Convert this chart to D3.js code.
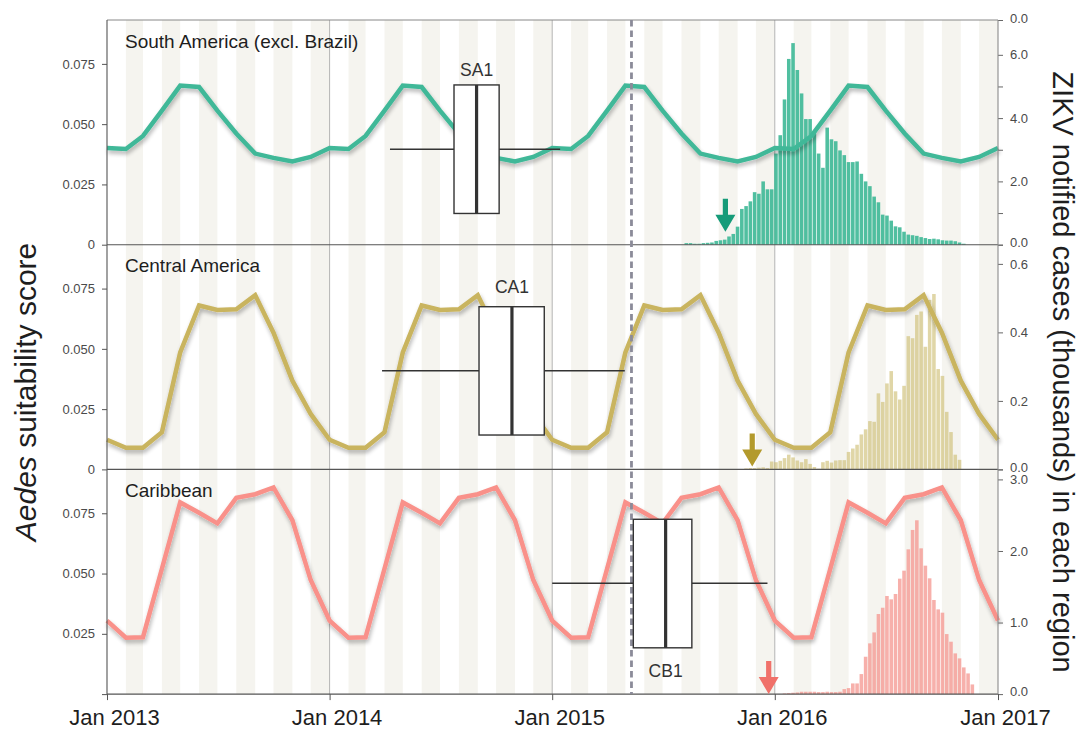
<!DOCTYPE html>
<html>
<head>
<meta charset="utf-8">
<script src="https://cdn.jsdelivr.net/npm/d3@7"></script>
<style>
  html, body { margin: 0; padding: 0; background: #fff; }
  svg { display: block; font-family: "Liberation Sans", Arial, Helvetica, sans-serif; }
</style>
</head>
<body>
<svg id="chart" width="1080" height="731"></svg>
<script>
// ---------------- data ----------------
const regionNames = ["South America (excl. Brazil)", "Central America", "Caribbean"];
const yearLabels = ["Jan 2013", "Jan 2014", "Jan 2015", "Jan 2016", "Jan 2017"];
const yearDates = ["2013-01-01", "2014-01-01", "2015-01-01", "2016-01-01", "2017-01-01"];

// Aedes suitability score on the first day of each month, Jan 2013 .. Jan 2017
const saSuitability = [
  0.0401, 0.0397, 0.0451, 0.0556, 0.0660, 0.0654, 0.0556, 0.0461, 0.0378, 0.0360, 0.0345, 0.0364,
  0.0401, 0.0397, 0.0451, 0.0556, 0.0660, 0.0654, 0.0556, 0.0461, 0.0378, 0.0360, 0.0345, 0.0364,
  0.0401, 0.0397, 0.0451, 0.0556, 0.0660, 0.0654, 0.0556, 0.0461, 0.0378, 0.0360, 0.0345, 0.0364,
  0.0401, 0.0397, 0.0451, 0.0556, 0.0660, 0.0654, 0.0556, 0.0461, 0.0378, 0.0360, 0.0345, 0.0364,
  0.0401
];
const caSuitability = [
  0.0123, 0.0090, 0.0090, 0.0154, 0.0485, 0.0680, 0.0661, 0.0664, 0.0723, 0.0567, 0.0368, 0.0230,
  0.0123, 0.0090, 0.0090, 0.0154, 0.0485, 0.0680, 0.0661, 0.0664, 0.0723, 0.0567, 0.0368, 0.0230,
  0.0123, 0.0090, 0.0090, 0.0154, 0.0485, 0.0680, 0.0661, 0.0664, 0.0723, 0.0567, 0.0368, 0.0230,
  0.0123, 0.0090, 0.0090, 0.0154, 0.0485, 0.0680, 0.0661, 0.0664, 0.0723, 0.0567, 0.0368, 0.0230,
  0.0123
];
const cbSuitability = [
  0.0305, 0.0234, 0.0236, 0.0520, 0.0795, 0.0752, 0.0708, 0.0814, 0.0829, 0.0857, 0.0721, 0.0473,
  0.0305, 0.0234, 0.0236, 0.0520, 0.0795, 0.0752, 0.0708, 0.0814, 0.0829, 0.0857, 0.0721, 0.0473,
  0.0305, 0.0234, 0.0236, 0.0520, 0.0795, 0.0752, 0.0708, 0.0814, 0.0829, 0.0857, 0.0721, 0.0473,
  0.0305, 0.0234, 0.0236, 0.0520, 0.0795, 0.0752, 0.0708, 0.0814, 0.0829, 0.0857, 0.0721, 0.0473,
  0.0305
];

// Weekly ZIKV notified cases (thousands); week 0 begins 2015-12-31
const weekOrigin = "2015-12-31";
const saFirstWeek = -21;
const saCases = [
  0.05, 0.05, 0.03, 0.03, 0.05, 0.06, 0.07, 0.12, 0.14, 0.16,
  0.26, 0.34, 0.57, 1.13, 1.22, 1.37, 1.66, 1.61, 2.00, 1.75, 1.75,
  2.88, 3.46, 4.59, 5.87, 6.37, 5.52, 4.78, 3.97, 3.97, 3.57,
  2.88, 2.43, 3.70, 3.33, 3.27, 2.98, 2.83, 2.61, 2.61, 2.63,
  2.24, 2.00, 1.85, 1.52, 1.34, 0.95, 0.92, 0.76, 0.58, 0.55,
  0.41, 0.32, 0.30, 0.28, 0.24, 0.21, 0.18, 0.19, 0.17, 0.14,
  0.13, 0.13, 0.11, 0.07, 0.03
];
const caFirstWeek = -7;
const caCases = [
  0.003, 0.004, 0.004, 0.005, 0.006, 0.004,
  0.023, 0.021, 0.025, 0.033, 0.043, 0.035, 0.026, 0.021, 0.030, 0.016,
  0.007, 0.002, 0.021, 0.025, 0.020, 0.026, 0.027, 0.027, 0.051, 0.061,
  0.072, 0.102, 0.117, 0.141, 0.139, 0.222, 0.197, 0.251, 0.287, 0.228,
  0.204, 0.244, 0.389, 0.383, 0.451, 0.461, 0.358, 0.495, 0.512, 0.293,
  0.273, 0.168, 0.109, 0.043, 0.028
];
const cbFirstWeek = 2;
const cbCases = [
  0.009, 0.014, 0.019, 0.023, 0.033, 0.033, 0.033, 0.033, 0.028, 0.028,
  0.033, 0.028, 0.028, 0.033, 0.070, 0.084, 0.149, 0.149, 0.280, 0.522,
  0.709, 0.862, 1.119, 1.207, 1.371, 1.324, 1.399, 1.613, 1.725, 2.023,
  2.294, 2.429, 2.037, 1.795, 1.618, 1.315, 1.184, 1.138, 0.839, 0.732,
  0.569, 0.499, 0.373, 0.289, 0.135
];

// Estimated origin dates: [lower whisker, lower quartile, median, upper quartile, upper whisker]
const boxLabels = ["SA1", "CA1", "CB1"];
const saBox = ["2014-04-10", "2014-07-24", "2014-08-30", "2014-10-06", "2015-01-14"];
const caBox = ["2014-03-28", "2014-09-03", "2014-10-27", "2014-12-19", "2015-04-30"];
const cbBox = ["2015-01-01", "2015-05-14", "2015-07-06", "2015-08-18", "2015-12-20"];

// First notified case markers
const arrowDates = ["2015-10-12", "2015-11-25", "2015-12-22"];
// Reference date marked by the dashed line
const markerDate = "2015-05-11";

// Axis tick values
const leftTicks = [0, 0.025, 0.05, 0.075];
const saRightTicks = [0, 1, 2, 3, 4, 5, 6];
const caRightTicks = [0, 0.2, 0.4, 0.6];
const cbRightTicks = [0, 1, 2, 3];

// ---------------- layout & style ----------------
const parse = d3.timeParse("%Y-%m-%d");
const W = 1080, H = 731;
const plotLeft = 107, plotRight = 998, plotTop = 20, panelH = 224.7;
const plotBottom = plotTop + 3 * panelH;

const panels = [
  { name: regionNames[0], suit: saSuitability, cases: saCases, firstWeek: saFirstWeek,
    rightMax: 7.1, rightTicks: saRightTicks, labelled: d => d % 2 === 0, topLabel: true,
    line: "#40b898", bar: "#3db896", barOpacity: 0.9, arrow: "#169b79",
    box: saBox, boxLabel: boxLabels[0], boxTop: 0.289, boxBottom: 0.861, whiskerY: 0.575,
    labelY: 0.249, arrowDate: arrowDates[0], arrowLift: 13, leftZero: true },
  { name: regionNames[1], suit: caSuitability, cases: caCases, firstWeek: caFirstWeek,
    rightMax: 0.656, rightTicks: caRightTicks, labelled: () => true, topLabel: false,
    line: "#c9b45e", bar: "#cbbb6c", barOpacity: 0.6, arrow: "#b39a2c",
    box: caBox, boxLabel: boxLabels[1], boxTop: 0.276, boxBottom: 0.847, whiskerY: 0.561,
    labelY: 0.216, arrowDate: arrowDates[1], arrowLift: 3, leftZero: true },
  { name: regionNames[2], suit: cbSuitability, cases: cbCases, firstWeek: cbFirstWeek,
    rightMax: 3.14, rightTicks: cbRightTicks, labelled: () => true, topLabel: false,
    line: "#f9918a", bar: "#f4968f", barOpacity: 0.75, arrow: "#f0716a",
    box: cbBox, boxLabel: boxLabels[2], boxTop: 0.222, boxBottom: 0.794, whiskerY: 0.507,
    labelY: 0.925, arrowDate: arrowDates[2], arrowLift: 0, leftZero: false }
];

const svg = d3.select("#chart");

const x = d3.scaleTime()
  .domain([parse(yearDates[0]), parse(yearDates[yearDates.length - 1])])
  .range([plotLeft, plotRight]);

// soft shadow under the suitability lines
const defs = svg.append("defs");
const f = defs.append("filter").attr("id", "lineShadow")
  .attr("x", "-5%").attr("y", "-30%").attr("width", "110%").attr("height", "160%");
f.append("feGaussianBlur").attr("in", "SourceAlpha").attr("stdDeviation", 2.2).attr("result", "b");
f.append("feOffset").attr("in", "b").attr("dx", 1).attr("dy", 2.5).attr("result", "o");
f.append("feComponentTransfer").attr("in", "o").attr("result", "s")
  .append("feFuncA").attr("type", "linear").attr("slope", 0.3);
const m = f.append("feMerge");
m.append("feMergeNode").attr("in", "s");
m.append("feMergeNode").attr("in", "SourceGraphic");

// alternating month stripes
const months = d3.timeMonth.range(x.domain()[0], x.domain()[1]);
svg.append("g").selectAll("rect")
  .data(months.filter((d, i) => i % 2 === 1))
  .join("rect")
  .attr("x", d => x(d))
  .attr("width", d => x(d3.timeMonth.offset(d, 1)) - x(d))
  .attr("y", plotTop)
  .attr("height", plotBottom - plotTop)
  .attr("fill", "#f5f4ef");

// year gridlines
svg.append("g").selectAll("line")
  .data(yearDates.slice(1, -1).map(parse))
  .join("line")
  .attr("x1", d => x(d)).attr("x2", d => x(d))
  .attr("y1", plotTop).attr("y2", plotBottom)
  .attr("stroke", "#b4b4b4").attr("stroke-width", 1);

const origin = parse(weekOrigin);
const suitDates = d3.timeMonth.range(x.domain()[0], d3.timeDay.offset(x.domain()[1], 1));

panels.forEach((p, i) => {
  const top = plotTop + i * panelH;
  const bottom = top + panelH;
  const yL = d3.scaleLinear().domain([0, 0.0932]).range([bottom, top]);
  const yR = d3.scaleLinear().domain([0, p.rightMax]).range([bottom, top]);
  const g = svg.append("g");

  // weekly case bars
  const weeks = p.cases.map((v, k) => ({ start: d3.timeDay.offset(origin, 7 * (p.firstWeek + k)), v }));
  g.append("g").selectAll("rect")
    .data(weeks)
    .join("rect")
    .attr("x", d => x(d.start))
    .attr("width", d => x(d3.timeDay.offset(d.start, 7)) - x(d.start) - 0.7)
    .attr("y", d => yR(d.v))
    .attr("height", d => bottom - yR(d.v))
    .attr("fill", p.bar)
    .attr("fill-opacity", p.barOpacity);

  // suitability line
  const pts = p.suit.map((v, k) => ({ date: suitDates[k], v }));
  g.append("path")
    .datum(pts)
    .attr("d", d3.line().x(d => x(d.date)).y(d => yL(d.v)))
    .attr("fill", "none")
    .attr("stroke", p.line)
    .attr("stroke-width", 4.5)
    .attr("filter", "url(#lineShadow)");

  // left axis
  const axL = g.append("g").attr("transform", `translate(${plotLeft},0)`)
    .call(d3.axisLeft(yL).tickValues(leftTicks).tickSize(5).tickPadding(7)
      .tickFormat(d => d === 0 ? (p.leftZero ? "0" : "") : d3.format(".3f")(d)));
  axL.select(".domain").remove();
  axL.selectAll("line").attr("stroke", "#555");
  axL.selectAll("text").attr("font-size", 13).attr("fill", "#4a4a4a");

  // right axis; the top tick of the first panel carries a "0.0" label,
  // the lower panels share it with the baseline label of the panel above
  const axR = g.append("g").attr("transform", `translate(${plotRight},0)`)
    .call(d3.axisRight(yR).tickValues(p.rightTicks.concat([p.rightMax])).tickSize(5).tickPadding(7)
      .tickFormat(d => d === p.rightMax ? (p.topLabel ? "0.0" : "") : (p.labelled(d) ? d3.format(".1f")(d) : "")));
  axR.select(".domain").remove();
  axR.selectAll("line").attr("stroke", "#666");
  axR.selectAll("text").attr("font-size", 13).attr("fill", "#4a4a4a")
    .attr("y", d => d === 0 ? -2.5 : (d === p.rightMax ? -2 : 0));

  // panel frame
  g.append("line").attr("x1", plotLeft).attr("x2", plotRight)
    .attr("y1", bottom).attr("y2", bottom).attr("stroke", "#555").attr("stroke-width", 1.1);
  if (i === 0) {
    g.append("line").attr("x1", plotLeft).attr("x2", plotRight)
      .attr("y1", top).attr("y2", top).attr("stroke", "#888").attr("stroke-width", 1);
  }

  // region title
  g.append("text")
    .attr("x", 125).attr("y", top + 27.5)
    .attr("font-size", 19).attr("fill", "#1e1e1e")
    .text(p.name);

  p.top = top; p.bottom = bottom;
});

// outer vertical axis lines
svg.append("line").attr("x1", plotLeft).attr("x2", plotLeft).attr("y1", plotTop).attr("y2", plotBottom)
  .attr("stroke", "#555").attr("stroke-width", 1.1);
svg.append("line").attr("x1", plotRight).attr("x2", plotRight).attr("y1", plotTop).attr("y2", plotBottom)
  .attr("stroke", "#8a8a8a").attr("stroke-width", 1.1);

// bottom time axis
const axB = svg.append("g").attr("transform", `translate(0,${plotBottom})`)
  .call(d3.axisBottom(x).tickValues(yearDates.map(parse)).tickSize(6).tickPadding(9)
    .tickFormat((d, i) => yearLabels[i]));
axB.select(".domain").remove();
axB.selectAll("line").attr("stroke", "#555");
axB.selectAll("text").attr("font-size", 22).attr("fill", "#1e1e1e").attr("x", 7);

// dashed reference line
svg.append("line")
  .attr("x1", x(parse(markerDate))).attr("x2", x(parse(markerDate)))
  .attr("y1", plotTop).attr("y2", plotBottom)
  .attr("stroke", "#8b8b99").attr("stroke-width", 2.8).attr("stroke-dasharray", "6.5,4");

// origin box plots and first-case arrows
panels.forEach(p => {
  const b = p.box.map(parse).map(x);
  const yTop = p.top + p.boxTop * panelH;
  const yBot = p.top + p.boxBottom * panelH;
  const yW = p.top + p.whiskerY * panelH;
  const g = svg.append("g");
  g.append("line").attr("x1", b[0]).attr("x2", b[1]).attr("y1", yW).attr("y2", yW)
    .attr("stroke", "#333").attr("stroke-width", 1.4);
  g.append("line").attr("x1", b[3]).attr("x2", b[4]).attr("y1", yW).attr("y2", yW)
    .attr("stroke", "#333").attr("stroke-width", 1.4);
  g.append("rect").attr("x", b[1]).attr("y", yTop).attr("width", b[3] - b[1]).attr("height", yBot - yTop)
    .attr("fill", "#fff").attr("stroke", "#333").attr("stroke-width", 1.4);
  g.append("line").attr("x1", b[2]).attr("x2", b[2]).attr("y1", yTop).attr("y2", yBot)
    .attr("stroke", "#333").attr("stroke-width", 3.2);
  g.append("text").attr("x", b[2]).attr("y", p.top + p.labelY * panelH)
    .attr("text-anchor", "middle").attr("font-size", 17.5).attr("fill", "#333")
    .text(p.boxLabel);

  const ax = x(parse(p.arrowDate));
  const ay = p.bottom - p.arrowLift;
  g.append("path")
    .attr("transform", `translate(${ax},${ay})`)
    .attr("d", "M-2.6,-33 L2.6,-33 L2.6,-17 L10,-17 L0,0 L-10,-17 L-2.6,-17 Z")
    .attr("fill", p.arrow);
});

// axis titles
const lt = svg.append("text")
  .attr("transform", `translate(36,392) rotate(-90)`)
  .attr("text-anchor", "middle").attr("font-size", 30).attr("fill", "#1e1e1e");
lt.append("tspan").attr("font-style", "italic").text("Aedes");
lt.append("tspan").text(" suitability score");

svg.append("text")
  .attr("transform", `translate(1053,372) rotate(90)`)
  .attr("text-anchor", "middle").attr("font-size", 29).attr("fill", "#1e1e1e")
  .text("ZIKV notified cases (thousands) in each region");
</script>
</body>
</html>
